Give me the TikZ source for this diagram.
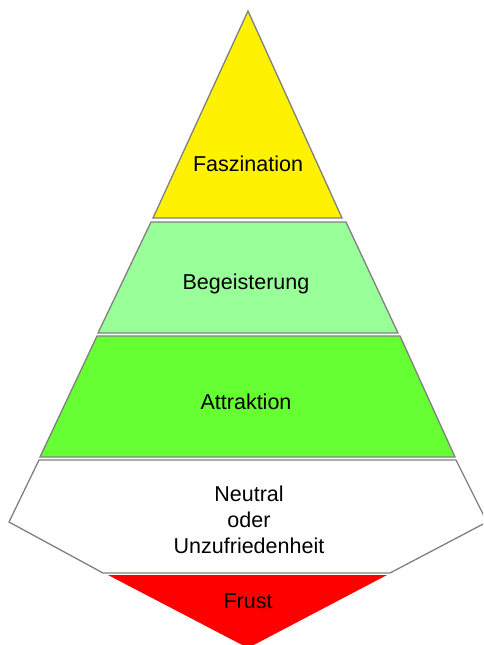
\documentclass[tikz,border=0pt]{standalone}
\usepackage{fontspec}
\setmainfont{Liberation Sans}
\begin{document}
\begin{tikzpicture}[x=1pt,y=-1pt,
  layer/.style={draw=black!50, line width=1.3pt, line join=miter},
  lbl/.style={font=\fontsize{21.5}{26}\selectfont, align=center, text=black, inner sep=0pt}]
\useasboundingbox (0,0) rectangle (483,645);
\clip (0,0) rectangle (483,645);
\definecolor{lgreen}{HTML}{99FF99}
\definecolor{mgreen}{HTML}{66FF33}
% layers
\filldraw[layer, fill=yellow] (248,11) -- (342,218) -- (153,218) -- cycle;
\filldraw[layer, fill=lgreen] (151,222) -- (346,222) -- (398,333) -- (98,333) -- cycle;
\filldraw[layer, fill=mgreen] (97,336) -- (400,336) -- (455,457) -- (40,457) -- cycle;
\filldraw[layer, fill=white] (39,460) -- (456,460) -- (487,522) -- (390,573) -- (103,573) -- (9,522) -- cycle;
\fill[red] (108,575) -- (387,575) -- (248,648) -- cycle;
% labels
\node[lbl] (f) at (248,164) {Faszination};
\node[lbl] (b) at (246,284) {Begeisterung};
\node[lbl] (a) at (246,402) {Attraktion};
\node[lbl] (n) at (249,520) {Neutral\\oder\\Unzufriedenheit};
\node[lbl] (r) at (248,601) {Frust};
\end{tikzpicture}
\end{document}
